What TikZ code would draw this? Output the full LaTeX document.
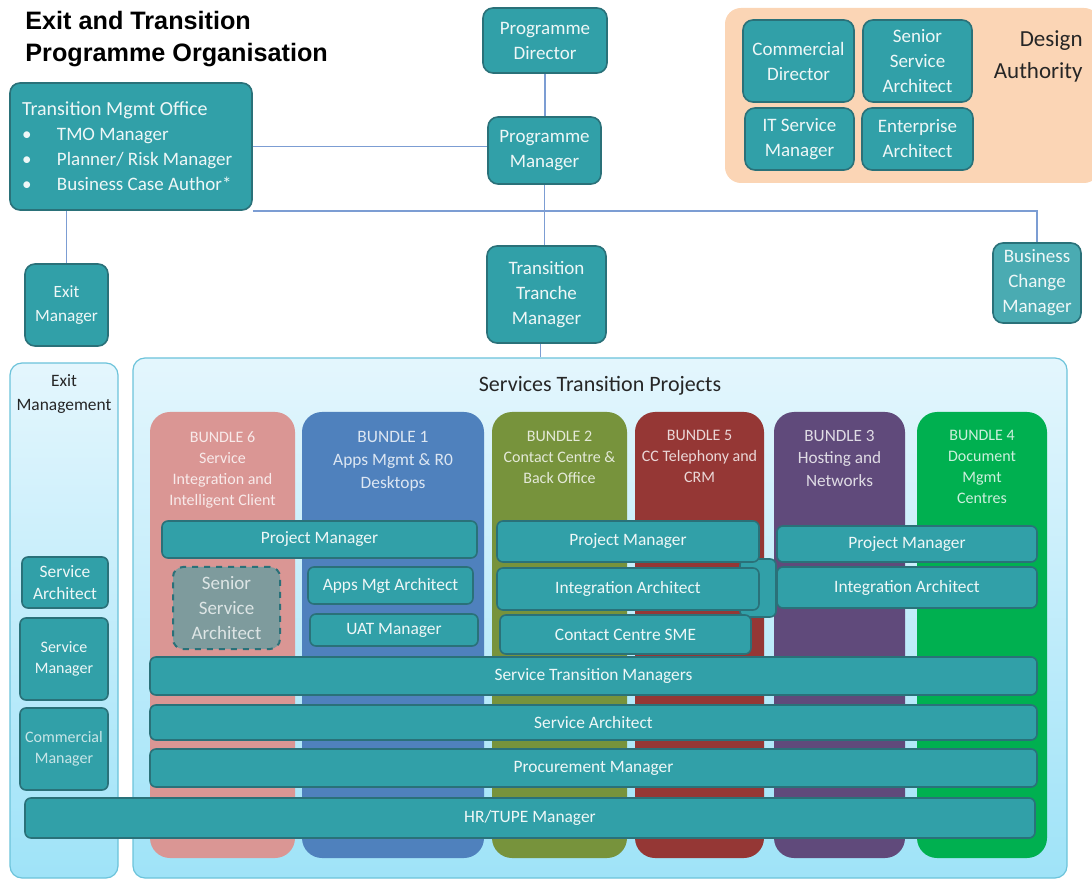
\documentclass[tikz,border=0pt]{standalone}
\usepackage{fontspec}
\setmainfont{Carlito}
\newfontfamily\titlefont{Liberation Sans}
\usepackage{tikz}
\usetikzlibrary{positioning}

\definecolor{tealbox}{HTML}{31A0A8}
\definecolor{tealdark}{HTML}{2A7179}
\definecolor{boxtext}{HTML}{EEF7F7}
\definecolor{greybox}{HTML}{7E9B9D}
\definecolor{greytext}{HTML}{DDE5E5}
\definecolor{peach}{HTML}{FBD5B5}
\definecolor{paneltop}{HTML}{E4F6FD}
\definecolor{panelbot}{HTML}{9FE3F8}
\definecolor{panelline}{HTML}{6CC3DA}
\definecolor{linkblue}{HTML}{7C9DD3}
\definecolor{bsix}{HTML}{DA9694}
\definecolor{bone}{HTML}{4F81BD}
\definecolor{btwo}{HTML}{77933C}
\definecolor{bfive}{HTML}{953735}
\definecolor{bthree}{HTML}{604A7B}
\definecolor{bfour}{HTML}{00B050}

\begin{document}
\begin{tikzpicture}[x=0.5pt,y=-0.5pt,sz/.style 2 args={minimum width=#1*0.5pt,minimum height=#2*0.5pt}]
            \tikzstyle{obox}=[draw=tealdark,fill=tealbox,line width=0.8pt,rounded corners=5pt,text=boxtext,inner sep=0pt,align=center,font=\fontsize{9.5}{12.5}\selectfont]
            \tikzstyle{ibox}=[obox,rounded corners=3pt,font=\fontsize{8.7}{11}\selectfont]
            \tikzstyle{dbox}=[obox,fill=greybox,dashed,line width=1pt,text=greytext]
            \tikzstyle{panel}=[draw=panelline,top color=paneltop,bottom color=panelbot,rounded corners=6pt,line width=0.6pt,inner sep=0pt]
            \tikzstyle{bundle}=[rounded corners=10pt,inner sep=0pt]
            \tikzstyle{btext}=[anchor=north,align=center,inner sep=0pt,font=\fontsize{8}{10.5}\selectfont]
            \tikzstyle{link}=[draw=linkblue,line width=0.8pt]
            \useasboundingbox (0,0) rectangle (1092,881);
            % title
            \node[anchor=north west,align=left,inner sep=0pt,font=\titlefont\bfseries\fontsize{12.6}{16}\selectfont] (title) at (25,11) {Exit and Transition\\Programme Organisation};
            % design authority
            \node[sz={375}{175},fill=peach,rounded corners=8pt] (da) at (912.5,95.5) {};
            \node[anchor=east,align=right,inner sep=0pt,text=black!85,font=\fontsize{11.5}{16}\selectfont] (datxt) at (1083,56) {Design\\Authority};
            \node[obox,sz={111}{82}] (cdir) at (798.5,61) {Commercial\\Director};
            \node[obox,sz={109}{82}] (ssa) at (917.5,61) {Senior\\Service\\Architect};
            \node[obox,sz={109}{62}] (itsm) at (799.5,139) {IT Service\\Manager};
            \node[obox,sz={111}{62}] (ea) at (917.5,139) {Enterprise\\Architect};
            % management line
            \node[obox,sz={242}{127},align=flush left,text width=218*0.5pt] (tmo) at (131,146.5) {{\fontsize{10}{12.5}\selectfont Transition Mgmt Office}\\
              \makebox[17.5pt][l]{\textbullet}TMO Manager\\
              \makebox[17.5pt][l]{\textbullet}Planner/ Risk Manager\\
              \makebox[17.5pt][l]{\textbullet}Business Case Author*};
            \node[obox,sz={124}{65}] (pdir) at (545,40.5) {Programme\\Director};
            \node[obox,sz={113}{67}] (pmgr) at (544.5,150.5) {Programme\\Manager};
            \node[obox,sz={119}{97}] (ttm) at (546.5,294.5) {Transition\\Tranche\\Manager};
            \node[obox,sz={83}{82},font=\fontsize{8.6}{12}\selectfont] (exm) at (66.5,305) {Exit\\Manager};
            \node[obox,sz={88}{80},fill=tealbox!88!white] (bcm) at (1037,283) {Business\\Change\\Manager};
            \draw[link] (pdir.south) -- (pdir.south |- pmgr.north);
            \draw[link] (tmo.east) -- (tmo.east -| pmgr.west);
            \draw[link] (pmgr.south) -- (pmgr.south |- ttm.north);
            \draw[link] (tmo.south -| exm.north) -- (exm.north);
            \draw[link] (tmo.south east) -- (tmo.south east -| bcm.north) -- (bcm.north);
            % panels
            \node[panel,sz={108}{515}] (exitp) at (64,620.5) {};
            \node[panel,sz={934}{520}] (stp) at (600,618) {};
            \draw[link] ([xshift=-3pt]ttm.south) -- ([xshift=-3pt]ttm.south |- stp.north);
            \node[btext,font=\fontsize{8.7}{12}\selectfont,text=black!85] (exittxt) at (64,374) {Exit\\Management};
            \node[btext,font=\fontsize{11}{13}\selectfont,text=black!85] (stptxt) at (600,376) {Services Transition Projects};
            % bundles
            \node[bundle,fill=bsix,sz={145}{446}] (b6) at (222.5,635) {};
            \node[bundle,fill=bone,sz={182}{446}] (b1) at (393,635) {};
            \node[bundle,fill=btwo,sz={135}{446}] (b2) at (559.5,635) {};
            \node[bundle,fill=bfive,sz={129}{446}] (b5) at (699.5,635) {};
            \node[bundle,fill=bthree,sz={131}{446}] (b3) at (839.5,635) {};
            \node[bundle,fill=bfour,sz={130}{446}] (b4) at (982,635) {};
            \node[btext,text=bsix!20!white] (b6t) at (222.5,431) {BUNDLE 6\\Service\\Integration and\\Intelligent Client};
            \node[btext,text=bone!20!white,font=\fontsize{8.7}{11.5}\selectfont] (b1t) at (393,431) {BUNDLE 1\\Apps Mgmt \& R0\\Desktops};
            \node[btext,text=btwo!20!white] (b2t) at (559.5,431) {BUNDLE 2\\Contact Centre \&\\Back Office};
            \node[btext,text=bfive!20!white] (b5t) at (699.5,430) {BUNDLE 5\\CC Telephony and\\CRM};
            \node[btext,text=bthree!20!white,font=\fontsize{8.6}{11.2}\selectfont] (b3t) at (839.5,430) {BUNDLE 3\\Hosting and\\Networks};
            \node[btext,text=bfour!20!white] (b4t) at (982,430) {BUNDLE 4\\Document\\Mgmt\\Centres};
            % roles in bundles
            \draw[ibox] (740,559) rectangle (776,617);
            \node[ibox,sz={315}{37}] (pm6) at (319.5,539.5) {Project Manager};
            \node[dbox,sz={107}{82}] (ssa6) at (226.5,608) {Senior\\Service\\Architect};
            \node[ibox,sz={165}{37}] (ama) at (390.5,585.5) {Apps Mgt Architect};
            \node[ibox,sz={168}{32}] (uat) at (394,630) {UAT Manager};
            \node[ibox,sz={262}{41}] (pm2) at (628,541.5) {Project Manager};
            \node[ibox,sz={262}{42}] (ia2) at (628,589) {Integration Architect};
            \node[ibox,sz={251}{39}] (cce) at (625.5,634.5) {Contact Centre SME};
            \node[ibox,sz={260}{36}] (pm3) at (907,544) {Project Manager};
            \node[ibox,sz={260}{41}] (ia3) at (907,587.5) {Integration Architect};
            \node[ibox,sz={887}{38}] (stm) at (593.5,676) {Service Transition Managers};
            \node[ibox,sz={887}{35}] (sa) at (593.5,722.5) {Service Architect};
            \node[ibox,sz={887}{38}] (proc) at (593.5,768) {Procurement Manager};
            % exit roles
            \node[ibox,sz={86}{51}] (esa) at (65,582.5) {Service\\Architect};
            \node[ibox,sz={88}{82},font=\fontsize{8}{10.5}\selectfont] (esm) at (64,659) {Service\\Manager};
            \node[ibox,sz={88}{82},font=\fontsize{8}{10.5}\selectfont,text=boxtext!80!tealbox] (ecm) at (64,749) {Commercial\\Manager};
            \node[ibox,sz={1010}{40}] (hr) at (530,818) {HR/TUPE Manager};
          \end{tikzpicture}
\end{document}
